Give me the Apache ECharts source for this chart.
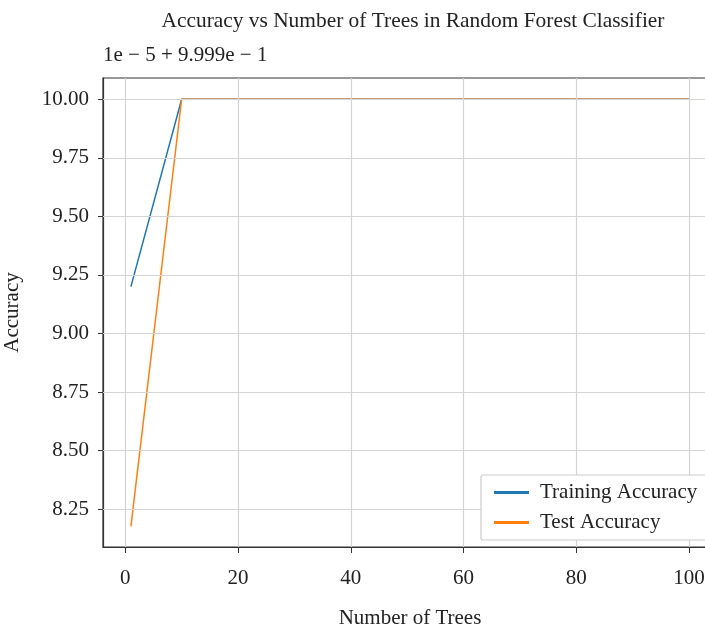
<!DOCTYPE html>
<html>
<head>
<meta charset="utf-8">
<script src="https://cdn.jsdelivr.net/npm/echarts@6/dist/echarts.min.js"></script>
<style>
html, body { margin: 0; padding: 0; background: #fff; }
#chart { width: 705px; height: 630px; }
</style>
</head>
<body>
<div id="chart"></div>
<script>
// values shown in units of the offset: value = 1e-5 * y + 0.9999
const trees = [1, 10, 20, 30, 40, 50, 60, 70, 80, 90, 100]
const trainAcc = [9.2, 10, 10, 10, 10, 10, 10, 10, 10, 10, 10]
const testAcc = [8.177, 10, 10, 10, 10, 10, 10, 10, 10, 10, 10]
const xTicks = [0, 20, 40, 60, 80, 100]
const yTicks = [8.25, 8.5, 8.75, 9, 9.25, 9.5, 9.75, 10]

const font = 'Liberation Serif'
const chart = echarts.init(document.getElementById('chart'))

const pairs = (ys) => trees.map((t, i) => [t, ys[i]])

const option = {
    backgroundColor: '#fff',
    animation: false,
    title: {
        text: 'Accuracy vs Number of Trees in Random Forest Classifier',
        left: 408,
        top: 6,
        textAlign: 'center',
        textStyle: { fontFamily: font, fontSize: 21.4, fontWeight: 'normal', color: '#222' }
    },
    graphic: [{
        type: 'text',
        left: 103,
        top: 45,
        style: { text: '1e − 5 + 9.999e − 1', font: '21px "Liberation Serif"', fill: '#222' }
    }],
    legend: {
        left: 481,
        top: 475,
        z: 10,
        orient: 'vertical',
        itemWidth: 35,
        itemHeight: 3,
        itemGap: 9,
        padding: [7, 40, 7, 13],
        borderColor: '#cccccc',
        borderWidth: 1.2,
        borderRadius: 2,
        backgroundColor: '#fff',
        icon: 'rect',
        textStyle: { fontFamily: font, fontSize: 21, color: '#222', padding: [0, 0, 0, 6] },
        data: ['Training Accuracy', 'Test Accuracy']
    },
    grid: {
        left: 103, right: -12, top: 78, bottom: 83,
        outerBoundsMode: 'none',
        containLabel: false,
        show: true,
        borderColor: '#333',
        borderWidth: 1.2
    },
    xAxis: {
        type: 'value',
        min: -3.95,
        max: 104.95,
        name: 'Number of Trees',
        nameLocation: 'middle',
        nameGap: 61,
        nameTextStyle: { fontFamily: font, fontSize: 21, color: '#222' },
        axisLine: { show: true, onZero: false, lineStyle: { color: '#333', width: 1.2 } },
        axisTick: { show: true, customValues: xTicks, length: 6, lineStyle: { color: '#333', width: 1 } },
        axisLabel: { customValues: xTicks, fontFamily: font, fontSize: 21, color: '#222', margin: 21 },
        splitLine: { show: false }
    },
    yAxis: {
        type: 'value',
        min: 8.089,
        max: 10.0906,
        name: 'Accuracy',
        nameLocation: 'middle',
        nameGap: 80,
        nameRotate: 90,
        nameTextStyle: { fontFamily: font, fontSize: 21, color: '#222' },
        axisLine: { show: true, onZero: false, lineStyle: { color: '#333', width: 1.2 } },
        axisTick: { show: true, customValues: yTicks, length: 5, lineStyle: { color: '#333', width: 1 } },
        axisLabel: {
            customValues: yTicks,
            fontFamily: font, fontSize: 21, color: '#222', margin: 14,
            formatter: (v) => v.toFixed(2)
        },
        splitLine: { show: false }
    },
    series: [
        {
            name: 'Training Accuracy',
            type: 'line',
            data: pairs(trainAcc),
            showSymbol: false,
            color: '#1f77b4',
            lineStyle: { width: 1.5 },
            markLine: {
                silent: true,
                symbol: 'none',
                label: { show: false },
                lineStyle: { color: '#d4d4d4', width: 1.2, type: 'solid' },
                data: xTicks.map(v => ({ xAxis: v })).concat(yTicks.map(v => ({ yAxis: v })))
            },
            z: 2
        },
        {
            name: 'Test Accuracy',
            type: 'line',
            data: pairs(testAcc),
            showSymbol: false,
            color: '#ff7f0e',
            lineStyle: { width: 1.5 },
            z: 3
        }
    ]
}
chart.setOption(option)
</script>
</body>
</html>
